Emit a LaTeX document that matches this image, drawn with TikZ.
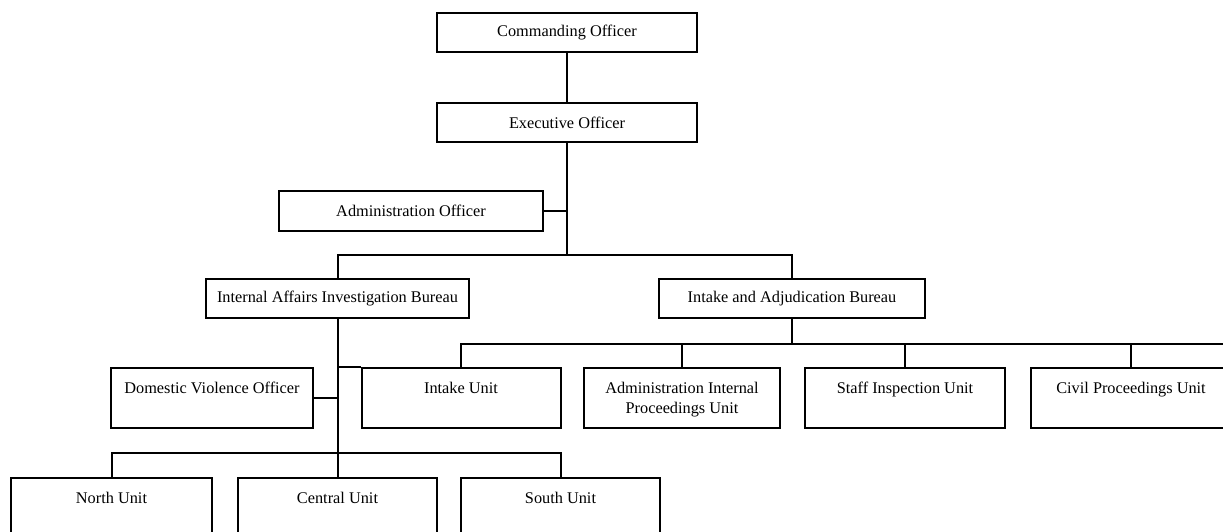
\documentclass[tikz,border=0pt]{standalone}
\usepackage{fontspec}
\setmainfont{Liberation Serif}
\usepackage{tikz}

\begin{document}
\begin{tikzpicture}[x=1pt,y=-1pt,
  box/.style={draw=black,line width=2pt,minimum height=39pt,inner sep=0pt,font=\fontsize{16.3}{20}\selectfont},
  unit/.style={draw=black,line width=2pt,minimum width=199pt,minimum height=60pt,inner ysep=0pt,
    text height=25pt,text depth=35pt,font=\fontsize{16.3}{20}\selectfont},
  link/.style={line width=2pt}]
% \draw[help lines] (0,0) grid (1223,531);
\useasboundingbox (0,0) rectangle (1223,531);
\node (co) [box,minimum width=260pt] at (567,32.5) {Commanding Officer};
\node (xo) [box,minimum width=260pt] at (567,122.5) {Executive Officer};
\node (ao) [box,minimum width=264pt,minimum height=40pt] at (411,211) {Administration Officer};
\node (iaib) [box,minimum width=263pt] at (337.5,298.5) {Internal Affairs Investigation Bureau};
\node (iab) [box,minimum width=266pt] at (792,298.5) {Intake and Adjudication Bureau};
%
\node (dvo) [unit,minimum width=202pt] at (212,398) {Domestic Violence Officer};
\node (intake) [unit] at (461,398) {Intake Unit};
\node (aipu) [unit,minimum width=196pt] at (682,398) {\parbox[t]{190pt}{\centering Administration Internal\\Proceedings Unit}};
\node (siu) [unit,minimum width=200pt] at (905,398) {Staff Inspection Unit};
\node (cpu) [unit,minimum width=200pt] at (1131,398) {Civil Proceedings Unit};
\node (north) [unit,minimum width=201pt] at (111.5,508) {North Unit};
\node (central) [unit] at (337.5,508) {Central Unit};
\node (south) [unit] at (560.5,508) {South Unit};
%
\coordinate (topbar) at (567,255);
\coordinate (midbar) at (792,344);
\coordinate (barend) at (1240,344);
\coordinate (lowbar) at (337.5,453);
%
\draw[link] (co) -- (xo);
\draw[link] (xo) -- (topbar);
\draw[link] (ao) -- (ao -| xo);
\draw[link] (iaib) |- (topbar) -| (iab);
\draw[link] (iab) -- (midbar);
\draw[link] (intake) |- (barend);
\foreach \n in {aipu,siu,cpu}
  \draw[link] (\n) -- (\n |- midbar);
\draw[link] (iaib) -- (central);
\draw[link] (iaib) |- (intake.north west);
\draw[link] (dvo) -- (dvo -| iaib);
\draw[link] (north) |- (lowbar) -| (south);
\end{tikzpicture}
\end{document}
